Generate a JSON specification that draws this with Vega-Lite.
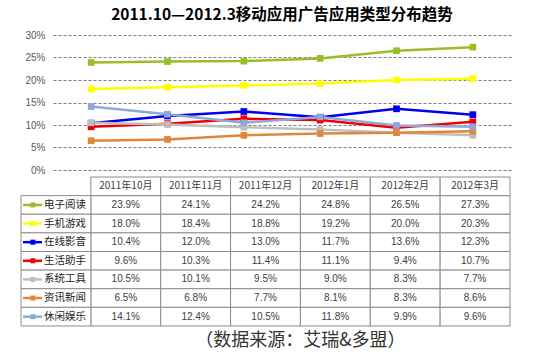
{
  "$schema": "https://vega.github.io/schema/vega-lite/v6.json",
  "width": 458,
  "height": 135,
  "autosize": {"type": "none"},
  "padding": {"left": 53, "top": 35, "right": 47, "bottom": 184},
  "background": "white",
  "title": {"text": "2011.10—2012.3移动应用广告应用类型分布趋势", "font": "Noto Sans CJK SC", "fontSize": 15.5, "fontWeight": "bold", "color": "#000000", "anchor": "middle", "offset": 7},
  "config": {"view": {"stroke": null}, "font": "Liberation Sans"},
  "data": {"values": [
    {"series": "电子阅读", "month": "2011年10月", "value": 0.239},
    {"series": "电子阅读", "month": "2011年11月", "value": 0.241},
    {"series": "电子阅读", "month": "2011年12月", "value": 0.242},
    {"series": "电子阅读", "month": "2012年1月", "value": 0.248},
    {"series": "电子阅读", "month": "2012年2月", "value": 0.265},
    {"series": "电子阅读", "month": "2012年3月", "value": 0.273},
    {"series": "手机游戏", "month": "2011年10月", "value": 0.180},
    {"series": "手机游戏", "month": "2011年11月", "value": 0.184},
    {"series": "手机游戏", "month": "2011年12月", "value": 0.188},
    {"series": "手机游戏", "month": "2012年1月", "value": 0.192},
    {"series": "手机游戏", "month": "2012年2月", "value": 0.200},
    {"series": "手机游戏", "month": "2012年3月", "value": 0.203},
    {"series": "在线影音", "month": "2011年10月", "value": 0.104},
    {"series": "在线影音", "month": "2011年11月", "value": 0.120},
    {"series": "在线影音", "month": "2011年12月", "value": 0.130},
    {"series": "在线影音", "month": "2012年1月", "value": 0.117},
    {"series": "在线影音", "month": "2012年2月", "value": 0.136},
    {"series": "在线影音", "month": "2012年3月", "value": 0.123},
    {"series": "生活助手", "month": "2011年10月", "value": 0.096},
    {"series": "生活助手", "month": "2011年11月", "value": 0.103},
    {"series": "生活助手", "month": "2011年12月", "value": 0.114},
    {"series": "生活助手", "month": "2012年1月", "value": 0.111},
    {"series": "生活助手", "month": "2012年2月", "value": 0.094},
    {"series": "生活助手", "month": "2012年3月", "value": 0.107},
    {"series": "系统工具", "month": "2011年10月", "value": 0.105},
    {"series": "系统工具", "month": "2011年11月", "value": 0.101},
    {"series": "系统工具", "month": "2011年12月", "value": 0.095},
    {"series": "系统工具", "month": "2012年1月", "value": 0.090},
    {"series": "系统工具", "month": "2012年2月", "value": 0.083},
    {"series": "系统工具", "month": "2012年3月", "value": 0.077},
    {"series": "资讯新闻", "month": "2011年10月", "value": 0.065},
    {"series": "资讯新闻", "month": "2011年11月", "value": 0.068},
    {"series": "资讯新闻", "month": "2011年12月", "value": 0.077},
    {"series": "资讯新闻", "month": "2012年1月", "value": 0.081},
    {"series": "资讯新闻", "month": "2012年2月", "value": 0.083},
    {"series": "资讯新闻", "month": "2012年3月", "value": 0.086},
    {"series": "休闲娱乐", "month": "2011年10月", "value": 0.141},
    {"series": "休闲娱乐", "month": "2011年11月", "value": 0.124},
    {"series": "休闲娱乐", "month": "2011年12月", "value": 0.105},
    {"series": "休闲娱乐", "month": "2012年1月", "value": 0.118},
    {"series": "休闲娱乐", "month": "2012年2月", "value": 0.099},
    {"series": "休闲娱乐", "month": "2012年3月", "value": 0.096}
  ]},
  "resolve": {"scale": {"x": "independent", "y": "independent"}},
  "layer": [
    {
      "encoding": {
        "x": {"field": "month", "type": "nominal", "scale": {"type": "point", "padding": 0.5, "domain": ["2011年10月", "2011年11月", "2011年12月", "2012年1月", "2012年2月", "2012年3月"]}, "axis": null},
        "y": {"field": "value", "type": "quantitative", "scale": {"domain": [0, 0.3], "nice": false, "zero": true},
              "axis": {"values": [0, 0.05, 0.1, 0.15, 0.2, 0.25, 0.3], "format": ".0%", "grid": true, "gridDash": [3, 2], "gridColor": "#7f7f7f", "gridWidth": 1, "domain": false, "ticks": false, "labelPadding": 8, "labelFontSize": 10, "labelColor": "#595959", "labelFont": "Liberation Sans", "title": null}},
        "color": {"field": "series", "type": "nominal", "scale": {"domain": ["电子阅读", "手机游戏", "在线影音", "生活助手", "系统工具", "资讯新闻", "休闲娱乐"], "range": ["#99BE2A", "#FFFF00", "#0000F0", "#F00000", "#BFBFBF", "#E0883A", "#8FA8D8"]}, "legend": null}
      },
      "layer": [
        {"mark": {"type": "line", "strokeWidth": 2.5}},
        {"mark": {"type": "point", "shape": "square", "filled": true, "opacity": 1, "size": 45}}
      ]
    },
    {
      "encoding": {
        "x": {"field": "month", "type": "nominal", "scale": {"type": "band", "domain": ["", "2011年10月", "2011年11月", "2011年12月", "2012年1月", "2012年2月", "2012年3月"], "range": [-32, 457], "paddingInner": 0, "paddingOuter": 0}, "axis": null},
        "y": {"field": "series", "type": "nominal", "scale": {"type": "band", "domain": ["表头", "电子阅读", "手机游戏", "在线影音", "生活助手", "系统工具", "资讯新闻", "休闲娱乐", "来源"], "range": [142, 309.6], "paddingInner": 0, "paddingOuter": 0}, "axis": null}
      },
      "layer": [
        {"mark": {"type": "rect", "fill": "white", "stroke": "#8c8c8c", "strokeWidth": 1}},
        {"mark": {"type": "text", "fontSize": 10, "color": "#404040", "font": "Liberation Sans"}, "encoding": {"text": {"field": "value", "type": "quantitative", "format": ".1%"}}},
        {"transform": [{"filter": "datum.series === '电子阅读'"}],
         "mark": {"type": "rect", "fill": "white", "stroke": "#8c8c8c", "strokeWidth": 1},
         "encoding": {"y": {"datum": "表头"}}},
        {"transform": [{"filter": "datum.series === '电子阅读'"}],
         "mark": {"type": "text", "fontSize": 10, "color": "#404040", "font": "Noto Sans CJK SC"},
         "encoding": {"y": {"datum": "表头"}, "text": {"field": "month"}}},
        {"transform": [{"filter": "datum.month === '2011年10月'"}],
         "mark": {"type": "rect", "fill": "white", "stroke": "#8c8c8c", "strokeWidth": 1},
         "encoding": {"x": {"datum": ""}}},
        {"transform": [{"filter": "datum.month === '2011年10月'"}],
         "mark": {"type": "point", "shape": "M-1,-0.13H1V0.13H-1Z", "filled": true, "opacity": 1, "size": 361},
         "encoding": {"x": {"datum": "", "bandPosition": 0.165}, "color": {"field": "series", "type": "nominal", "legend": null}}},
        {"transform": [{"filter": "datum.month === '2011年10月'"}],
         "mark": {"type": "point", "shape": "square", "filled": true, "opacity": 1, "size": 25},
         "encoding": {"x": {"datum": "", "bandPosition": 0.17}, "color": {"field": "series", "type": "nominal", "legend": null}}},
        {"transform": [{"filter": "datum.month === '2011年10月'"}],
         "mark": {"type": "text", "align": "left", "fontSize": 10.5, "color": "#222222", "font": "Noto Sans CJK SC"},
         "encoding": {"x": {"datum": "", "bandPosition": 0.33}, "text": {"field": "series"}}},
        {"transform": [{"filter": "datum.month === '2011年10月' && datum.series === '电子阅读'"}],
         "mark": {"type": "text", "align": "center", "fontSize": 18, "color": "#333333", "font": "Noto Sans CJK SC", "dy": 6, "text": "（数据来源：艾瑞&多盟）"},
         "encoding": {"x": {"datum": "2011年12月", "bandPosition": 1}, "y": {"datum": "来源"}}}
      ]
    }
  ]
}
